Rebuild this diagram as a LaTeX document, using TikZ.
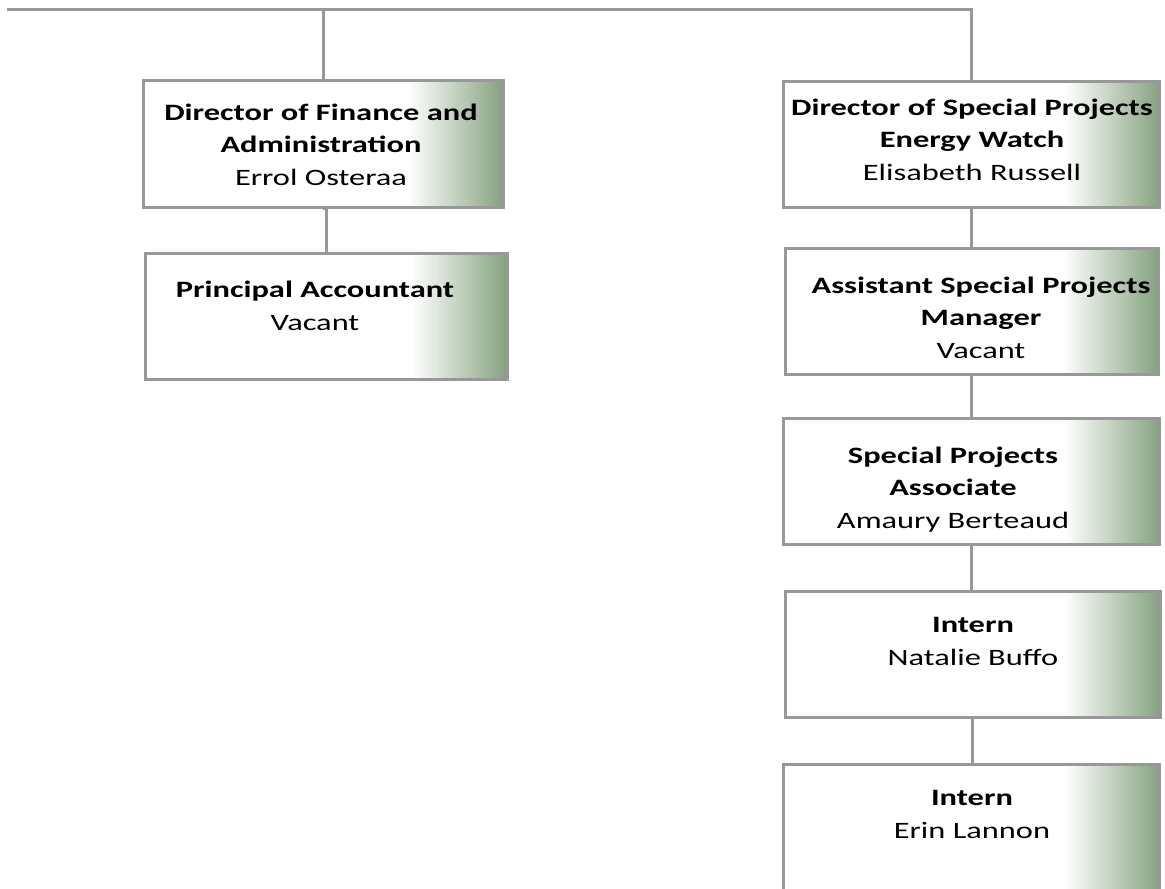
\documentclass[tikz,border=0pt]{standalone}
\usepackage{fontspec}
\setmainfont[FakeStretch=1.38]{Carlito}
\usetikzlibrary{calc}

\definecolor{chartgreen}{RGB}{135,164,130}
\definecolor{chartgray}{RGB}{152,152,152}

\tikzset{
  orgbox/.style={draw=chartgray, line width=1.5pt, fill=white,
    minimum width=188pt, minimum height=63pt, inner sep=0pt,
    path picture={
      \foreach \k [evaluate=\k as \pct using \k*100/31] in {0,...,31}
        \fill[chartgreen!\pct!white]
          ($(path picture bounding box.north east)+(-96+\k*3,0)$) rectangle
          ($(path picture bounding box.south east)+(-92.6+\k*3,0)$);}},
  orgtext/.style={align=center, anchor=base, inner sep=0pt,
    font=\fontsize{11.75}{16.25}\selectfont},
  orgline/.style={draw=chartgray, line width=1.5pt}
}

\begin{document}
\begin{tikzpicture}[x=0.5pt,y=0.5pt]
    \useasboundingbox (0,0) rectangle (1165,-888);

    % finance branch
    \node[orgbox, minimum width=180pt] (fin) at (323,-144) {};
    \node[orgbox, minimum width=181pt] (acct) at (326,-316.5) {};

    % special projects branch
    \node[orgbox] (dsp) at (971.5,-144.5) {};
    \node[orgbox, minimum width=186.5pt] (asst) at (971.5,-311.5) {};
    \node[orgbox] (assoc) at (971.5,-481) {};
    \node[orgbox, minimum width=187.5pt] (internA) at (972.5,-654.5) {};
    \node[orgbox] (internB) at (971.5,-827) {};

    % texts, placed by the baseline of their last line
    \node[orgtext] (finT) at (321,-185)
        {\textbf{Director of Finance and}\\\textbf{Administration}\\Errol Osteraa};
    \node[orgtext] (acctT) at (315,-330) {\textbf{Principal Accountant}\\Vacant};
    \node[orgtext] (dspT) at (972,-180)
        {\textbf{Director of Special Projects}\\\textbf{Energy Watch}\\Elisabeth Russell};
    \node[orgtext] (asstT) at (981,-358)
        {\textbf{Assistant Special Projects}\\\textbf{Manager}\\Vacant};
    \node[orgtext] (assocT) at (953,-528)
        {\textbf{Special Projects}\\\textbf{Associate}\\Amaury Berteaud};
    \node[orgtext] (internAT) at (973,-665) {\textbf{Intern}\\Natalie Buffo};
    \node[orgtext] (internBT) at (972,-838) {\textbf{Intern}\\Erin Lannon};

    % connectors
    \coordinate (root) at (7,-10);
    \draw[orgline] (root) -| (dsp.north);
    \draw[orgline] (fin.north) -- (fin.north |- root);
    \draw[orgline] (fin.south) -- (fin.south -| acct.north) -- (acct.north);
    \foreach \up/\down in {dsp/asst, asst/assoc, assoc/internA, internA/internB}
        \draw[orgline] (\up.south) -- (\up.south |- \down.north);
\end{tikzpicture}
\end{document}
